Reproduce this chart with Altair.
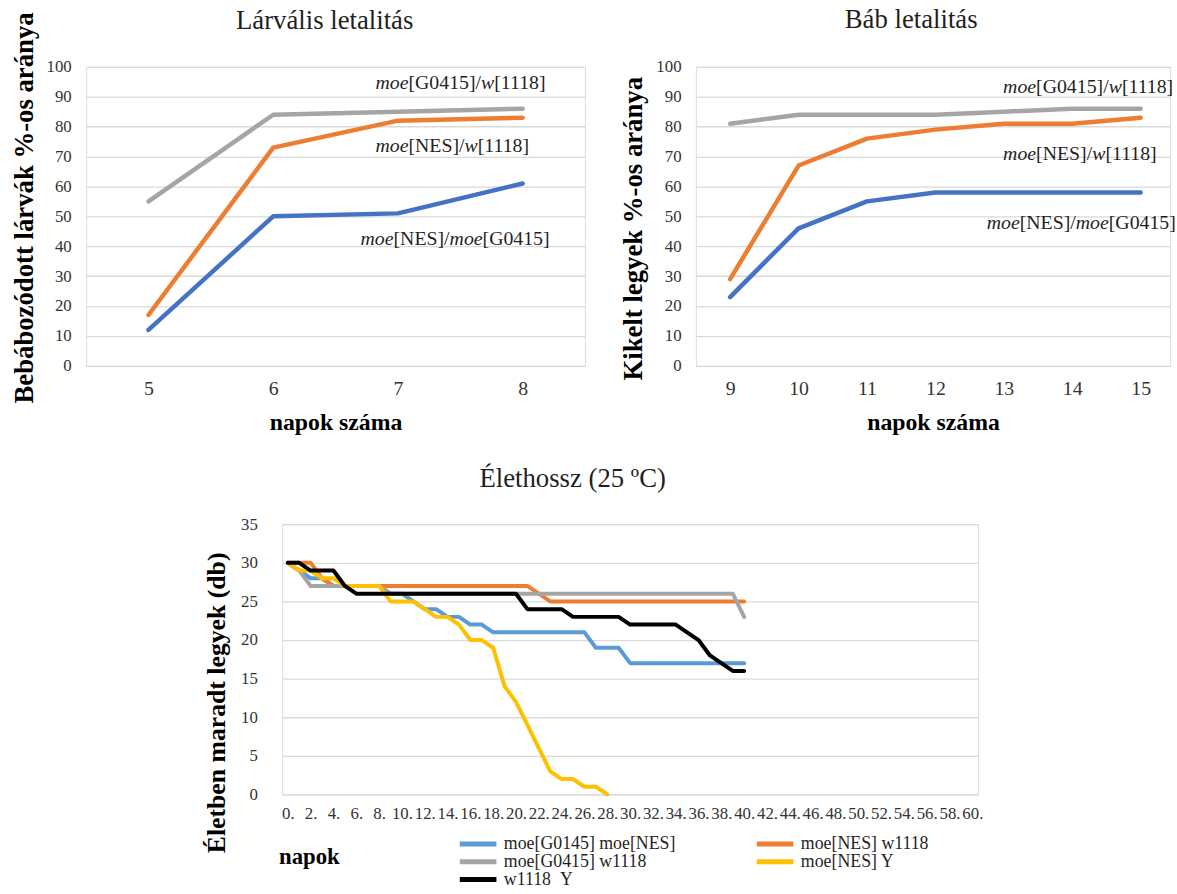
import altair as alt
import pandas as pd

FONT = "Liberation Serif"
TXT = "#333333"
TTL = "#1F1F1F"

# ---------------- data ----------------
larva_days = [5, 6, 7, 8]
larva_g0415_w1118 = [55, 84, 85, 86]
larva_nes_w1118 = [17, 73, 82, 83]
larva_nes_g0415 = [12, 50, 51, 61]

pupa_days = [9, 10, 11, 12, 13, 14, 15]
pupa_g0415_w1118 = [81, 84, 84, 84, 85, 86, 86]
pupa_nes_w1118 = [29, 67, 76, 79, 81, 81, 83]
pupa_nes_g0415 = [23, 46, 55, 58, 58, 58, 58]

top_series = ["moe[G0415]/w[1118]", "moe[NES]/w[1118]", "moe[NES]/moe[G0415]"]
top_colors = ["#A5A5A5", "#ED7D31", "#4472C4"]

# annotation label pieces (text, italic)
top_label_parts = [
    [("moe", True), ("[G0415]/", False), ("w", True), ("[1118]", False)],
    [("moe", True), ("[NES]/", False), ("w", True), ("[1118]", False)],
    [("moe", True), ("[NES]/", False), ("moe", True), ("[G0415]", False)],
]
larva_label_x = [6.82, 6.82, 6.7]
larva_label_y = [94.5, 73.5, 42.3]
pupa_label_x = [12.99, 12.99, 12.75]
pupa_label_y = [93.3, 70.9, 47.9]

life_days = list(range(41))
life_g0145_nes = [30, 29, 28, 28, 27, 27, 27, 27, 27, 26, 26, 25, 24, 24, 23, 23, 22, 22,
                  21, 21, 21, 21, 21, 21, 21, 21, 21, 19, 19, 19,
                  17, 17, 17, 17, 17, 17, 17, 17, 17, 17, 17]
life_nes_w1118 = [30, 30, 30, 28, 27, 27, 27, 27, 27, 27, 27, 27, 27, 27, 27, 27, 27, 27,
                  27, 27, 27, 27, 26, 25, 25, 25, 25, 25, 25, 25, 25, 25, 25, 25, 25, 25,
                  25, 25, 25, 25, 25]
life_g0415_w1118 = [30, 29, 27, 27, 27, 27, 27, 27, 27, 26, 26, 26, 26, 26, 26, 26, 26, 26,
                    26, 26, 26, 26, 26, 26, 26, 26, 26, 26, 26, 26, 26, 26, 26, 26, 26, 26,
                    26, 26, 26, 26, 23]
life_nes_y = [30, 29, 29, 28, 28, 27, 27, 27, 27, 25, 25, 25, 24, 23, 23, 22, 20, 20,
              19, 14, 12, 9, 6, 3, 2, 2, 1, 1, 0]
life_w1118_y = [30, 30, 29, 29, 29, 27, 26, 26, 26, 26, 26, 26, 26, 26, 26, 26, 26, 26,
                26, 26, 26, 24, 24, 24, 24, 23, 23, 23, 23, 23, 22, 22, 22, 22, 22,
                21, 20, 18, 17, 16, 16]
life_series = ["moe[G0145] moe[NES]", "moe[NES] w1118", "moe[G0415] w1118",
               "moe[NES] Y", "w1118  Y"]
life_colors = ["#5B9BD5", "#ED7D31", "#A5A5A5", "#FFC000", "#000000"]
# legend order (filled column by column, as in the reference)
legend_order = [0, 2, 4, 1, 3]
life_x_ticks = list(range(0, 61, 2))

# ---------------- helpers ----------------
REG_W = {'[': 333, ']': 333, '/': 278, 'G': 722, 'N': 722, 'E': 611, 'S': 556,
         'm': 778, 'o': 500, 'e': 444, 'w': 722, ' ': 250}
ITA_W = {'m': 722, 'o': 500, 'e': 444, 'w': 667}
ANN_SIZE = 20


def text_w(s, italic):
    tbl = ITA_W if italic else REG_W
    return sum(tbl.get(c, 500) for c in s) * ANN_SIZE / 1000.0


def top_chart(days, values, title, ytitle, domain, width, lab_x, lab_y,
              title_dx, title_dy, ytitle_y):
    rows = []
    for name, vals in zip(top_series, values):
        for d, v in zip(days, vals):
            rows.append({"day": d, "v": v, "s": name})
    df = pd.DataFrame(rows)
    px_per_unit = width / (domain[1] - domain[0])
    ann = []
    for parts, ax, ay in zip(top_label_parts, lab_x, lab_y):
        off = 0.0
        for txt, ital in parts:
            ann.append({"day": ax + off / px_per_unit, "v": ay, "t": txt, "it": ital})
            off += text_w(txt, ital)
    adf = pd.DataFrame(ann)

    xs = alt.Scale(domain=domain, nice=False, zero=False)
    ys = alt.Scale(domain=[0, 100], nice=False)
    xax = alt.Axis(
        values=days, grid=False, domain=False, ticks=False, format="d",
        labelFontSize=20, labelPadding=13, labelColor=TXT, labelFlush=False,
        labelOverlap=False,
        title="napok száma", titleFontSize=24, titleFontWeight="bold",
        titleColor="#000000", titlePadding=12)
    yax = alt.Axis(
        values=list(range(0, 101, 10)), gridColor="#D9D9D9", gridWidth=1.3,
        domain=False, ticks=False, labelFontSize=17, labelPadding=15,
        labelColor=TXT, labelOverlap=False, title=ytitle, titleFontSize=27,
        titleFontWeight="bold", titleColor="#000000", titlePadding=8,
        titleY=ytitle_y)
    x = alt.X("day:Q", scale=xs, axis=xax)
    y = alt.Y("v:Q", scale=ys, axis=yax)
    lines = alt.Chart(df).mark_line(strokeWidth=4.5, strokeJoin="round", strokeCap="round").encode(
        x=x, y=y,
        color=alt.Color("s:N", scale=alt.Scale(domain=top_series, range=top_colors), legend=None),
        detail="s:N")
    t_it = alt.Chart(adf).transform_filter("datum.it").mark_text(
        align="left", baseline="middle", fontSize=ANN_SIZE, fontStyle="italic",
        font=FONT, color=TTL).encode(x=x, y=y, text="t:N")
    t_rg = alt.Chart(adf).transform_filter("!datum.it").mark_text(
        align="left", baseline="middle", fontSize=ANN_SIZE,
        font=FONT, color=TTL).encode(x=x, y=y, text="t:N")
    return alt.layer(lines, t_it, t_rg).properties(
        width=width, height=302,
        title=alt.TitleParams(title, fontSize=27, fontWeight="normal", color=TTL,
                              font=FONT, frame="group", dx=title_dx, dy=title_dy,
                              offset=22))


left = top_chart(larva_days, [larva_g0415_w1118, larva_nes_w1118, larva_nes_g0415],
                 "Lárvális letalitás", "Bebábozódott  lárvák  %-os  aránya",
                 [4.5, 8.5], 504, larva_label_x, larva_label_y, -11, 55, 142)
right = top_chart(pupa_days, [pupa_g0415_w1118, pupa_nes_w1118, pupa_nes_g0415],
                  "Báb letalitás", "Kikelt  legyek  %-os  aránya",
                  [8.5, 15.43], 479, pupa_label_x, pupa_label_y, -22, -2, 163)

# bottom chart
rows = []
for name, vals in zip(life_series, [life_g0145_nes, life_nes_w1118, life_g0415_w1118,
                                    life_nes_y, life_w1118_y]):
    for d, v in zip(life_days, vals):
        rows.append({"day": d, "n": v, "s": name})
ldf = pd.DataFrame(rows)

leg_domain = [life_series[i] for i in legend_order]
leg_range = [life_colors[i] for i in legend_order]

bottom = alt.Chart(ldf).mark_line(strokeWidth=4, strokeJoin="round", strokeCap="round").encode(
    x=alt.X("day:Q", scale=alt.Scale(domain=[-0.5, 60.5], nice=False, zero=False),
            axis=alt.Axis(values=life_x_ticks, grid=False, domain=False, ticks=False,
                          labelExpr="datum.value + '.'", labelFontSize=17,
                          labelPadding=11, labelColor=TXT, labelOverlap=False,
                          labelFlush=False, title="napok", titleFontSize=23,
                          titleFontWeight="bold", titleColor="#000000",
                          titleX=27, titleY=63, titleBaseline="middle",
                          titleAlign="center")),
    y=alt.Y("n:Q", scale=alt.Scale(domain=[0, 35], nice=False),
            axis=alt.Axis(values=list(range(0, 36, 5)), gridColor="#D9D9D9",
                          gridWidth=1.3, domain=False, ticks=False, labelFontSize=17,
                          labelPadding=25, labelColor=TXT, labelOverlap=False,
                          title="Életben maradt legyek (db)", titleFontSize=26,
                          titleFontWeight="bold", titleColor="#000000",
                          titlePadding=11, titleY=180)),
    color=alt.Color("s:N", scale=alt.Scale(domain=leg_domain, range=leg_range),
                    legend=alt.Legend(title=None, orient="none", legendX=177, legendY=314,
                                      columns=2, symbolType="stroke", symbolSize=1369,
                                      symbolStrokeWidth=5, clipHeight=18,
                                      labelFontSize=18, labelFont=FONT, labelColor=TTL,
                                      columnPadding=79, rowPadding=0, labelOffset=5,
                                      padding=0, labelLimit=400,
                                      labelExpr="replace(datum.label, '  ', '\u00a0\u00a0')")),
    detail="s:N",
).properties(width=703, height=273,
             title=alt.TitleParams("Élethossz (25 ºC)", fontSize=27, fontWeight="normal",
                                   color=TTL, font=FONT, frame="group", dx=-58, offset=23))

spacer = alt.Chart(pd.DataFrame({"a": [0]})).mark_point(opacity=0).encode(
    x=alt.X("a:Q", axis=None), y=alt.Y("a:Q", axis=None)).properties(
    width=118, height=10, view=alt.ViewBackground(stroke=None, fill=None))

chart = alt.vconcat(
    alt.hconcat(left, right, spacing=34),
    alt.hconcat(spacer, bottom, spacing=0).resolve_scale(color="independent"),
    spacing=29,
).resolve_scale(color="independent").properties(
    padding={"left": 9, "top": -4, "right": 0, "bottom": 0},
    background="white",
).configure_view(stroke=None).configure_axis(labelOverlap=False).configure(font=FONT)

chart.save("out.html", embed_options={"renderer": "svg", "actions": False})
